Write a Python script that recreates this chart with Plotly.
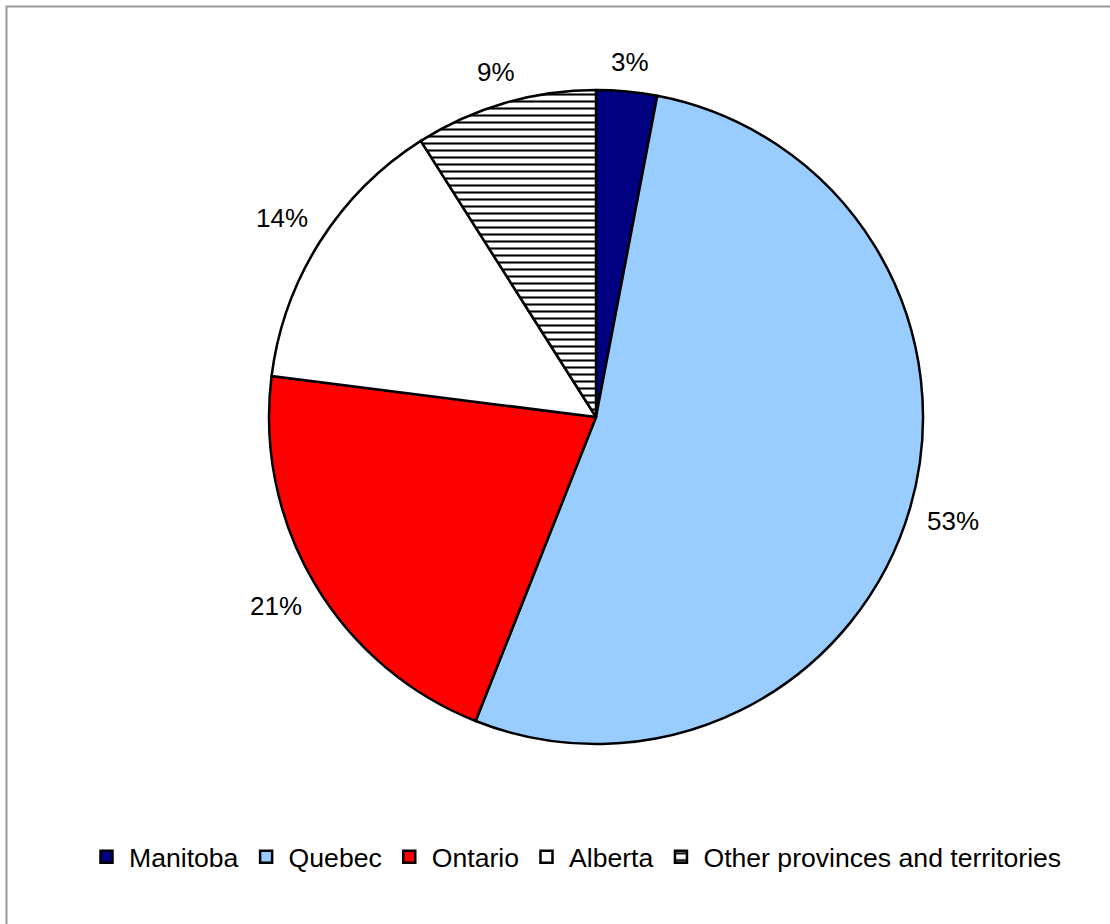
import math
import plotly.graph_objects as go

# Share by province (percent)
provinces = ["Manitoba", "Quebec", "Ontario", "Alberta", "Other provinces and territories"]
shares = [3, 53, 21, 14, 9]
slice_colors = ["#000080", "#99CCFF", "#FF0000", "#FFFFFF", "#FFFFFF"]
slice_patterns = ["", "", "", "", "-"]

W, H = 1110, 924
cx, cy, r = 596, 417, 327
label_gap = 16     # distance between the pie edge and the nearest side of a label
label_size = 26

FONT = "Liberation Sans, Arial, sans-serif"

fig = go.Figure()

fig.add_trace(go.Pie(
    labels=provinces,
    values=shares,
    sort=False,
    direction="clockwise",
    rotation=0,
    marker=dict(
        colors=slice_colors,
        line=dict(color="#000000", width=2.5),
        pattern=dict(shape=slice_patterns, fgcolor="#000000", bgcolor="#FFFFFF",
                     size=7, solidity=0.3),
    ),
    textinfo="none",
    hoverinfo="label+percent",
    domain=dict(x=[(cx - r) / W, (cx + r) / W],
                y=[1 - (cy + r) / H, 1 - (cy - r) / H]),
))

# Percentage labels, set just outside each slice at its middle angle
total = sum(shares)
annotations = []
cum = 0
for v in shares:
    mid = 2 * math.pi * (cum + v / 2) / total      # clockwise from 12 o'clock
    cum += v
    text = f"{round(100 * v / total)}%"
    ux, uy = math.sin(mid), math.cos(mid)
    # half extents of the label box (Arial-like glyph widths)
    half_w = (0.556 * (len(text) - 1) + 0.889) * label_size / 2
    half_h = 0.46 * label_size
    reach = r + label_gap + abs(ux) * half_w + abs(uy) * half_h
    px = cx + reach * ux
    py = cy - reach * uy
    annotations.append(dict(
        x=px / W, y=1 - py / H, xref="paper", yref="paper",
        text=text, showarrow=False, xanchor="center", yanchor="middle",
        font=dict(family=FONT, size=label_size, color="#000000"),
    ))

fig.update_layout(
    width=W,
    height=H,
    margin=dict(l=0, r=0, t=0, b=0),
    paper_bgcolor="#FFFFFF",
    plot_bgcolor="#FFFFFF",
    showlegend=True,
    legend=dict(
        orientation="h",
        x=84 / W,
        xanchor="left",
        y=1 - 857 / H,
        yanchor="middle",
        font=dict(family=FONT, size=26.6, color="#000000"),
        itemwidth=35,
        traceorder="normal",
    ),
    annotations=annotations,
    shapes=[
        dict(type="rect", xref="paper", yref="paper",
             x0=6.5 / W, x1=1.05, y0=-0.05, y1=1 - 6.5 / H,
             line=dict(color="#999999", width=2), layer="below"),
    ],
)

fig.write_html("out.html")
